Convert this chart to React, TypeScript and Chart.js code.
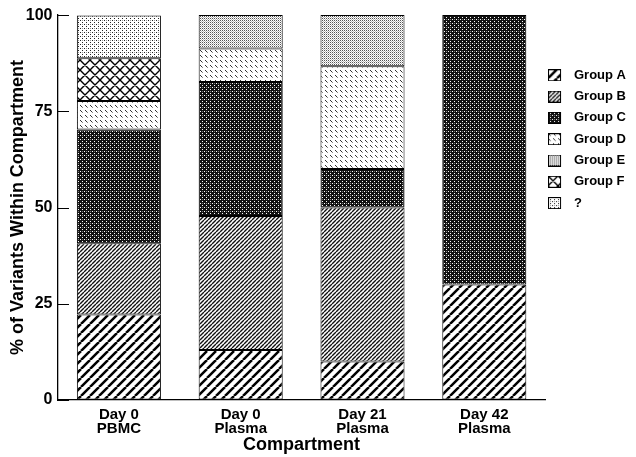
import React, { useEffect, useRef } from 'react';
import { Chart, registerables } from 'chart.js';

Chart.register(...registerables);

const categories = [
  ['Day 0', 'PBMC'],
  ['Day 0', 'Plasma'],
  ['Day 21', 'Plasma'],
  ['Day 42', 'Plasma'],
];
const seriesNames = ['Group A', 'Group B', 'Group C', 'Group D', 'Group E', 'Group F', '?'];
const groupA = [22.2, 13.0, 10.0, 30.0];
const groupB = [18.5, 34.8, 40.0, 0];
const groupC = [29.6, 34.8, 10.0, 70.0];
const groupD = [7.4, 8.7, 26.7, 0];
const groupE = [0, 8.7, 13.3, 0];
const groupF = [11.1, 0, 0, 0];
const groupUnknown = [11.1, 0, 0, 0];
const yTickStep = 25;
const yMax = 100;

const FONT = "'Liberation Sans', Arial, Helvetica, sans-serif";

type Painter = (ctx: CanvasRenderingContext2D, w: number, h: number) => void;

function makeTile(w: number, h: number, draw: Painter): HTMLCanvasElement {
  const c = document.createElement('canvas');
  c.width = w;
  c.height = h;
  const ctx = c.getContext('2d')!;
  ctx.fillStyle = '#fff';
  ctx.fillRect(0, 0, w, h);
  draw(ctx, w, h);
  return c;
}

const diag = (lw: number, color: string): Painter => (ctx, w, h) => {
  ctx.strokeStyle = color;
  ctx.lineWidth = lw;
  ctx.beginPath();
  for (const k of [-w, 0, w]) {
    ctx.moveTo(k, h);
    ctx.lineTo(k + w, 0);
  }
  ctx.stroke();
};

const tiles: HTMLCanvasElement[] = [];
function buildTiles() {
  if (tiles.length) return tiles;
  // Group A: wide diagonal stripes
  tiles.push(makeTile(9, 9, diag(2.5, '#000')));
  // Group B: dense diagonal stripes
  tiles.push(makeTile(4, 4, diag(1.4, '#111')));
  // Group C: dark with white dots
  tiles.push(
    makeTile(4, 4, (ctx) => {
      ctx.fillStyle = '#111';
      ctx.fillRect(0, 0, 4, 4);
      ctx.fillStyle = '#fff';
      ctx.fillRect(2, 1, 1, 1);
      ctx.fillRect(0, 3, 1, 1);
      ctx.fillStyle = '#777';
      ctx.fillRect(2, 3, 1, 1);
    })
  );
  // Group D: light with backslash dashes
  tiles.push(
    makeTile(5, 5, (ctx) => {
      ctx.fillStyle = '#333';
      ctx.fillRect(0, 0, 1, 1);
      ctx.fillRect(1, 1, 1, 1);
      ctx.fillStyle = '#888';
      ctx.fillRect(2, 2, 1, 1);
    })
  );
  // Group E: light gray dot grid
  tiles.push(
    makeTile(2, 2, (ctx) => {
      ctx.fillStyle = '#555';
      ctx.fillRect(0, 0, 1, 1);
      ctx.fillStyle = '#bbb';
      ctx.fillRect(1, 1, 1, 1);
    })
  );
  // Group F: crosshatch
  tiles.push(
    makeTile(10, 10, (ctx, w, h) => {
      ctx.strokeStyle = '#000';
      ctx.lineWidth = 1.4;
      ctx.beginPath();
      for (const k of [-w, 0, w]) {
        ctx.moveTo(k, h);
        ctx.lineTo(k + w, 0);
        ctx.moveTo(k, 0);
        ctx.lineTo(k + w, h);
      }
      ctx.stroke();
    })
  );
  // ?: sparse dots
  tiles.push(
    makeTile(4, 4, (ctx) => {
      ctx.fillStyle = '#222';
      ctx.fillRect(0, 0, 1, 1);
      ctx.fillRect(2, 2, 1, 1);
      ctx.fillStyle = '#999';
      ctx.fillRect(2, 0, 1, 1);
    })
  );
  return tiles;
}

function legendImage(tile: HTMLCanvasElement): HTMLCanvasElement {
  const c = document.createElement('canvas');
  c.width = 25;
  c.height = 12;
  const ctx = c.getContext('2d')!;
  const p = ctx.createPattern(tile, 'repeat')!;
  ctx.fillStyle = p;
  ctx.fillRect(0.5, 0.5, 12, 11);
  ctx.strokeStyle = '#000';
  ctx.lineWidth = 1;
  ctx.strokeRect(0.5, 0.5, 12, 11);
  return c;
}

const inwardTicks = {
  id: 'inwardTicks',
  afterDraw(chart: any) {
    const y = chart.scales.y;
    const ctx = chart.ctx;
    const left = chart.chartArea.left;
    ctx.save();
    ctx.strokeStyle = '#000';
    ctx.lineWidth = 1.2;
    ctx.beginPath();
    y.ticks.forEach((t: any) => {
      const py = Math.round(y.getPixelForValue(t.value)) + 0.5;
      ctx.moveTo(left, py);
      ctx.lineTo(left + 11, py);
    });
    ctx.stroke();
    ctx.restore();
  },
};

export default function App() {
  const ref = useRef<HTMLCanvasElement>(null);

  useEffect(() => {
    const canvas = ref.current!;
    const ctx = canvas.getContext('2d')!;
    const t = buildTiles();
    const patterns = t.map((tile) => ctx.createPattern(tile, 'repeat')!);
    const images = t.map((tile) => legendImage(tile));
    const values = [groupA, groupB, groupC, groupD, groupE, groupF, groupUnknown];

    const chart = new Chart(canvas, {
      type: 'bar',
      data: {
        labels: categories,
        datasets: values.map((v, i) => ({
          label: seriesNames[i],
          data: v,
          backgroundColor: patterns[i],
          borderColor: '#000',
          borderWidth: 1,
          borderSkipped: false,
          barPercentage: 0.69,
          categoryPercentage: 1,
        })),
      },
      options: {
        animation: false,
        responsive: false,
        maintainAspectRatio: false,
        devicePixelRatio: 1,
        layout: { padding: { top: 15, left: 0, right: 0, bottom: 0 } },
        plugins: {
          tooltip: { enabled: false },
          legend: {
            position: 'right',
            align: 'start',
            title: {
              display: true,
              text: ' ',
              font: { size: 10, lineHeight: 1 },
              padding: { top: 35.5, bottom: 0 },
            },
            labels: {
              usePointStyle: true,
              pointStyleWidth: 14,
              boxHeight: 13,
              padding: 8.3,
              color: '#000',
              font: { family: FONT, size: 13, weight: 'bold' },
              generateLabels: (ch: any) =>
                ch.data.datasets.map((ds: any, i: number) => ({
                  text: ds.label,
                  pointStyle: images[i],
                  fillStyle: 'rgba(0,0,0,0)',
                  strokeStyle: 'rgba(0,0,0,0)',
                  lineWidth: 0,
                  hidden: false,
                  datasetIndex: i,
                  fontColor: '#000',
                })),
            },
          },
        },
        scales: {
          x: {
            stacked: true,
            offset: true,
            grid: { color: 'rgba(0,0,0,0)', drawTicks: false },
            border: { display: true, color: '#000', width: 1.3 },
            ticks: {
              color: '#000',
              padding: 8,
              maxRotation: 0,
              autoSkip: false,
              font: { family: FONT, size: 15, weight: 'bold', lineHeight: 0.93 },
            },
            title: {
              display: true,
              text: 'Compartment',
              color: '#000',
              font: { family: FONT, size: 18, weight: 'bold', lineHeight: 1 },
              padding: { top: -7.9, bottom: 3 },
            },
          },
          y: {
            stacked: true,
            min: 0,
            max: yMax,
            grid: { color: 'rgba(0,0,0,0)', drawTicks: false },
            border: { display: true, color: '#000', width: 1.3 },
            ticks: {
              stepSize: yTickStep,
              color: '#000',
              padding: 5.5,
              font: { family: FONT, size: 16, weight: 'bold' },
            },
            title: {
              display: true,
              text: '% of Variants Within Compartment',
              color: '#000',
              font: { family: FONT, size: 18, weight: 'bold', lineHeight: 1 },
              padding: { top: 9, bottom: -6.7 },
            },
          },
        },
      } as any,
      plugins: [inwardTicks],
    });
    return () => chart.destroy();
  }, []);

  return (
    <div style={{ position: 'fixed', left: 0, top: 0, width: 636, height: 457, background: '#fff' }}>
      <canvas ref={ref} width={636} height={457} style={{ display: 'block', width: 636, height: 457 }} />
    </div>
  );
}
